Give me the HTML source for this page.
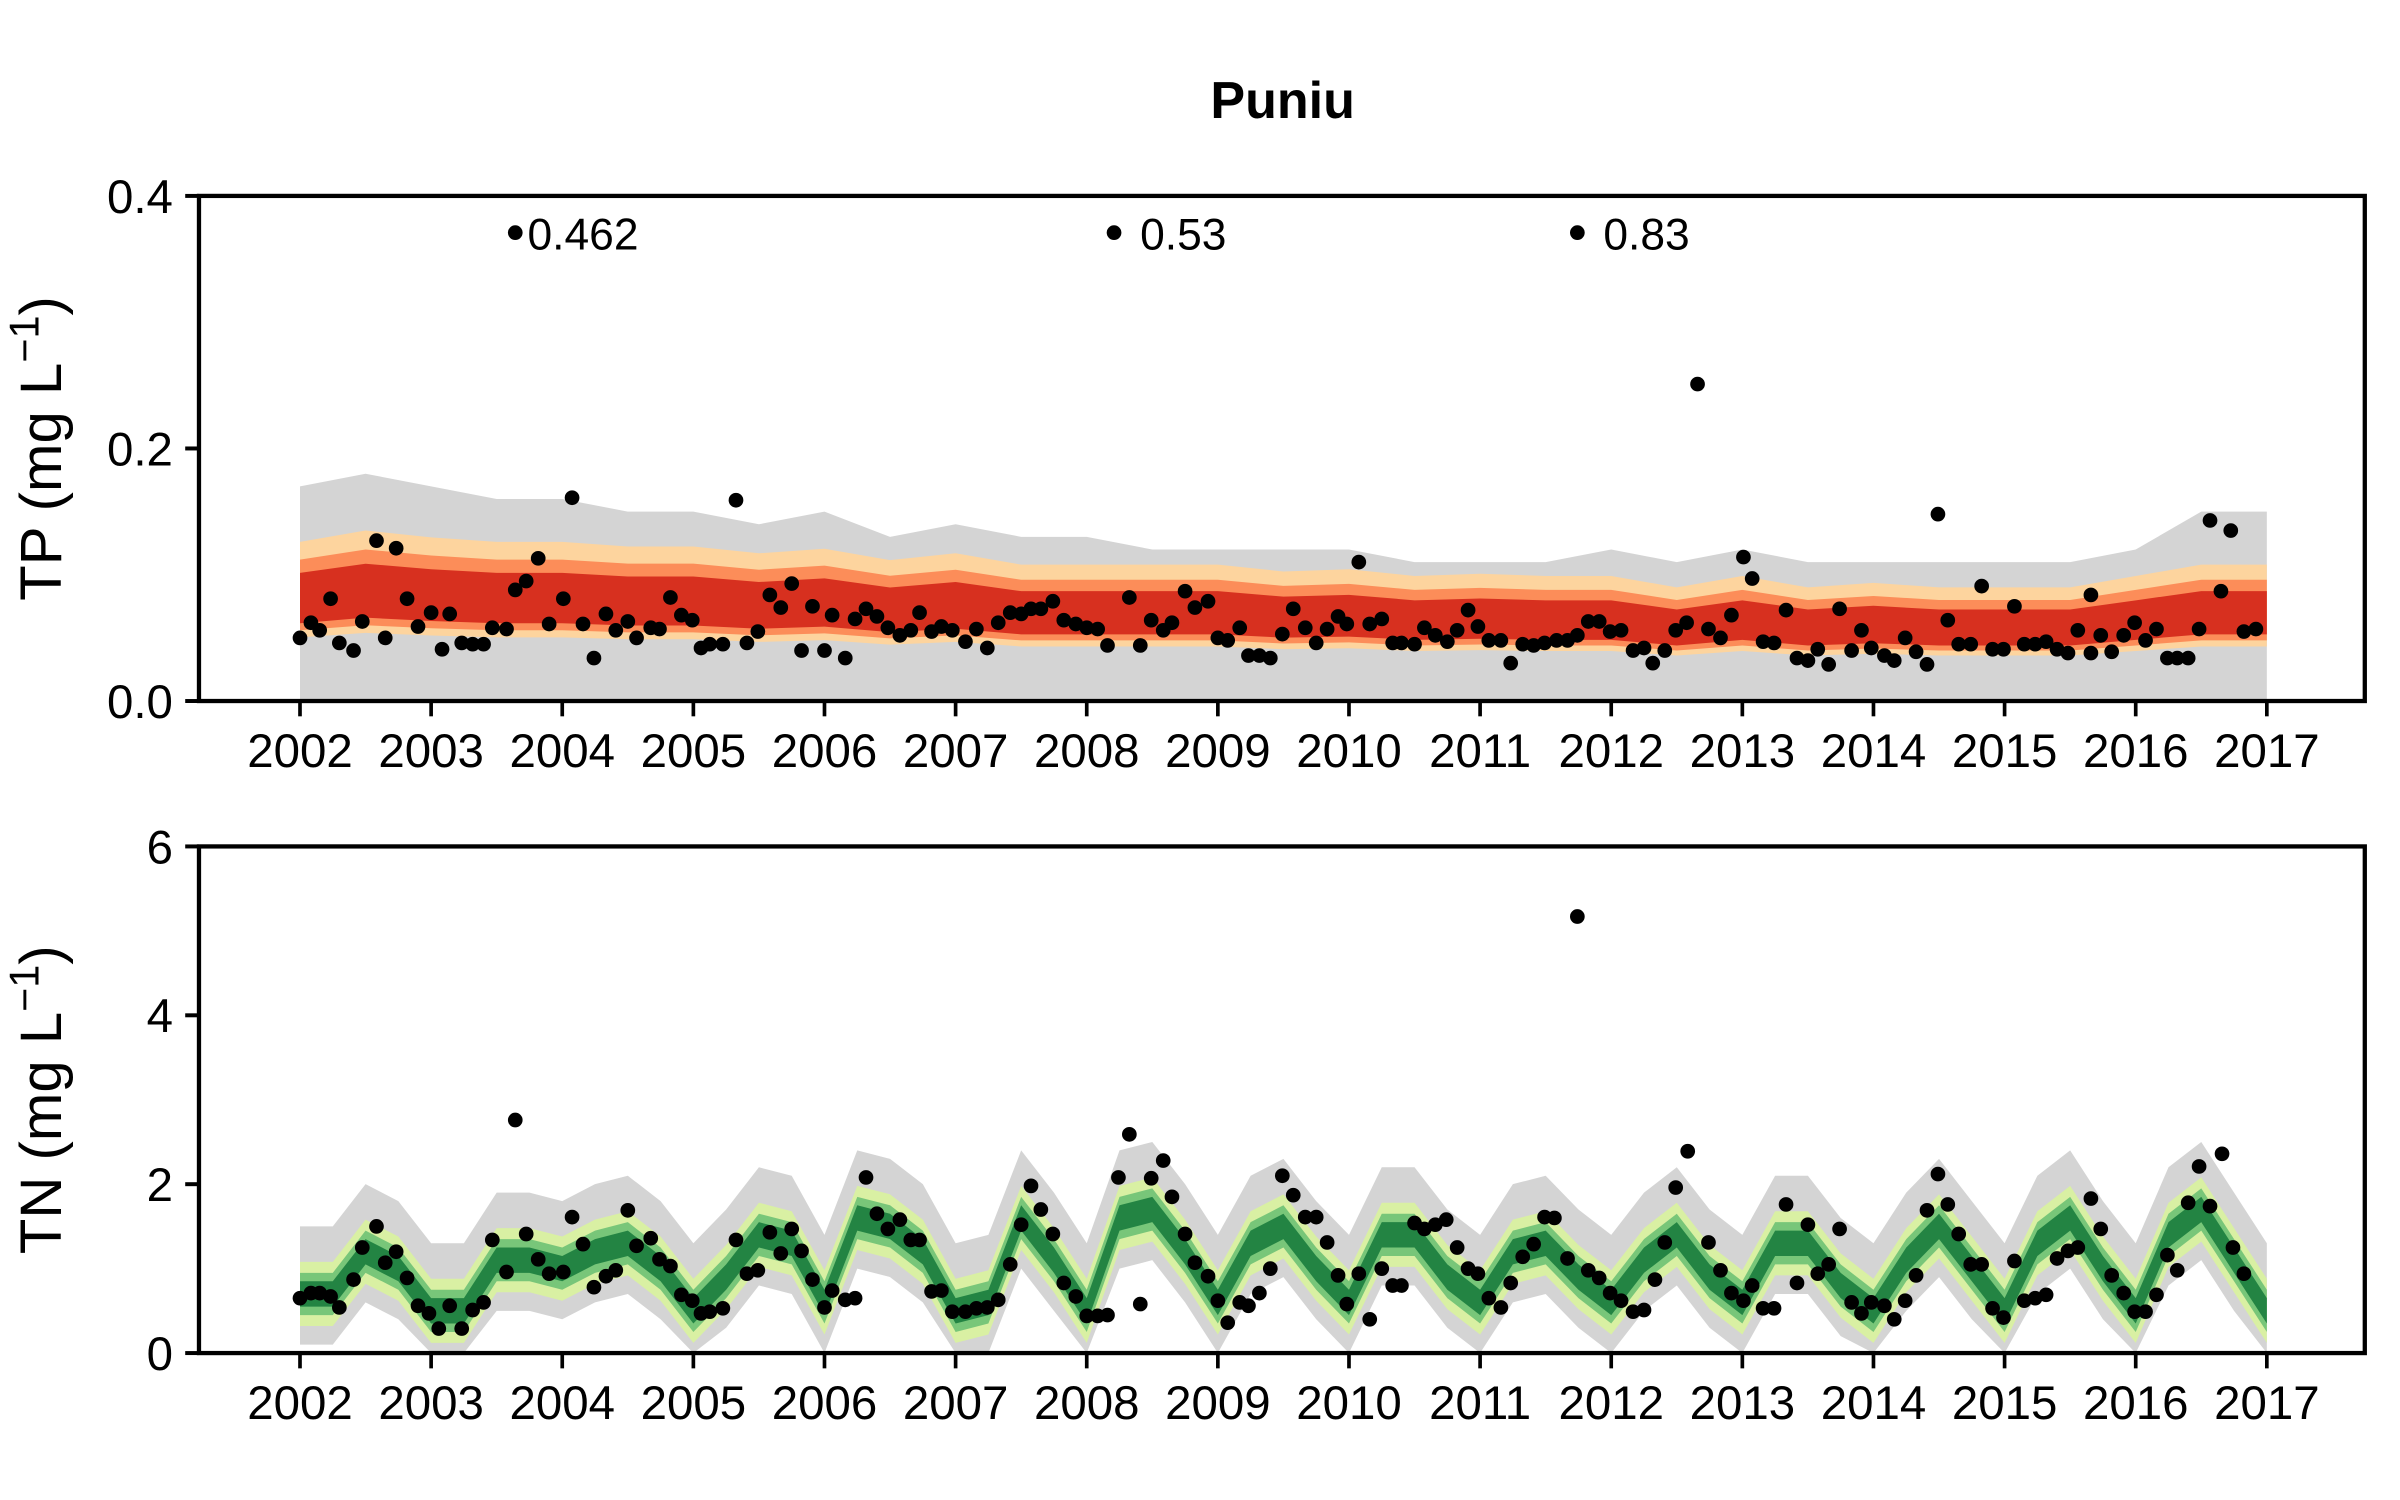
<!DOCTYPE html>
<html><head><meta charset="utf-8">
<style>
html,body{margin:0;padding:0;background:#fff;}
svg{display:block;font-family:"Liberation Sans",Arial,sans-serif;}
</style></head>
<body>
<svg id="chart" width="2400" height="1500" viewBox="0 0 1568 980" xmlns="http://www.w3.org/2000/svg">
<text x="838" y="77" text-anchor="middle" font-size="34" font-weight="bold">Puniu</text>
<g id="tp"></g>
<g id="tn"></g>
</svg>
<script>
const years = [2002,2003,2004,2005,2006,2007,2008,2009,2010,2011,2012,2013,2014,2015,2016,2017];
const tpTicks = [0.0,0.2,0.4];
const tpTickLabels = ["0.0","0.2","0.4"];
const tnTicks = [0,2,4,6];
const tnTickLabels = ["0","2","4","6"];
// semiannual model band (months from Jan 2002, step 6)
const tpMid = [.07,.075,.072,.07,.07,.068,.068,.065,.067,.062,.065,.06,.06,.06,.06,.057,.058,.055,.056,.055,.055,.05,.055,.05,.052,.05,.05,.05,.055,.06,.06];
const tpGrayTop = [.17,.18,.17,.16,.16,.15,.15,.14,.15,.13,.14,.13,.13,.12,.12,.12,.12,.11,.11,.11,.12,.11,.12,.11,.11,.11,.11,.11,.12,.15,.15];
// quarterly TN model median (months step 3)
const tnMid = [.7,.7,1.2,1.0, .5,.5,1.1,1.1, 1.0,1.2,1.3,1.0, .5,.9,1.4,1.3, .6,1.6,1.5,1.2, .5,.6,1.6,1.1, .5,1.6,1.7,1.2, .6,1.3,1.5,1.0, .6,1.4,1.4,.9, .6,1.2,1.3,.9, .6,1.1,1.4,.9, .6,1.3,1.3,.8, .5,1.1,1.5,1.0, .5,1.3,1.6,1.0, .5,1.4,1.7,1.1, .5];
const tpObs = [[0,.050],[1,.062],[1.8,.056],[2.8,.081],[3.6,.046],[4.9,.040],[5.7,.063],[7,.127],[7.8,.050],[8.8,.121],[9.8,.081],[10.8,.059],[12,.070],[13,.041],[13.7,.069],[14.8,.046],[15.8,.045],[16.8,.045],[17.6,.058],[18.9,.057],[19.7,.088],[20.7,.095],[21.8,.113],[22.8,.061],[24.1,.081],[24.9,.161],[25.9,.061],[26.9,.034],[28,.069],[28.9,.056],[30,.063],[30.8,.050],[32.1,.058],[32.9,.057],[33.9,.082],[34.9,.068],[35.9,.064],[36.7,.042],[37.5,.045],[38.7,.045],[39.9,.159],[40.9,.046],[41.9,.055],[43,.084],[44,.074],[45,.093],[45.9,.040],[46.9,.075],[48,.040],[48.7,.068],[49.9,.034],[50.8,.065],[51.8,.073],[52.8,.067],[53.8,.058],[54.9,.052],[55.9,.056],[56.7,.070],[57.8,.055],[58.7,.059],[59.7,.056],[60.9,.047],[61.9,.057],[62.9,.042],[63.9,.062],[65,.070],[66,.069],[66.9,.073],[67.8,.073],[68.9,.079],[69.9,.064],[71,.061],[72,.058],[73,.057],[73.9,.044],[75.9,.082],[76.9,.044],[77.9,.064],[79,.056],[79.8,.062],[81,.087],[81.9,.074],[83.1,.079],[84,.050],[84.9,.048],[86,.058],[86.8,.036],[87.8,.036],[88.8,.034],[89.9,.053],[90.9,.073],[92,.058],[93,.046],[94,.057],[95,.067],[95.8,.061],[96.9,.110],[97.9,.061],[99,.065],[100,.046],[100.8,.046],[102,.045],[102.9,.058],[103.9,.052],[105,.047],[105.9,.056],[106.9,.072],[107.8,.059],[108.8,.048],[109.9,.048],[110.8,.030],[111.9,.045],[112.9,.044],[113.9,.046],[115,.048],[116,.048],[116.9,.052],[117.9,.063],[118.9,.063],[119.9,.055],[120.9,.056],[122,.040],[123,.042],[123.8,.030],[124.9,.040],[125.9,.056],[126.9,.062],[127.9,.251],[128.9,.057],[130,.050],[131,.068],[132.1,.114],[132.9,.097],[133.9,.047],[134.9,.046],[136,.072],[137,.034],[138,.032],[138.9,.041],[139.9,.029],[140.9,.073],[142,.040],[142.9,.056],[143.8,.042],[145,.036],[145.9,.032],[146.9,.050],[147.9,.039],[148.9,.029],[149.9,.148],[150.8,.064],[151.8,.045],[152.9,.045],[153.9,.091],[154.9,.041],[155.9,.041],[156.9,.075],[157.8,.045],[158.8,.045],[159.8,.047],[160.8,.041],[161.8,.038],[162.7,.056],[163.9,.038],[163.9,.084],[164.8,.052],[165.8,.039],[166.9,.052],[167.9,.062],[168.9,.048],[169.9,.057],[170.9,.034],[171.8,.034],[172.8,.034],[173.8,.057],[174.8,.143],[175.8,.087],[176.7,.135],[177.9,.055],[179,.057]];
const tpOffMonths = [19.7,74.5,116.9];
const tpOffLabels = ["0.462","0.53","0.83"];
const tnObs = [[0,.65],[1,.71],[1.8,.71],[2.8,.67],[3.6,.54],[4.9,.87],[5.7,1.25],[7,1.50],[7.8,1.07],[8.8,1.20],[9.8,.89],[10.8,.56],[11.8,.47],[12.7,.29],[13.7,.56],[14.8,.29],[15.8,.51],[16.8,.60],[17.6,1.34],[18.9,.96],[19.7,2.76],[20.7,1.41],[21.8,1.11],[22.8,.94],[24.1,.96],[24.9,1.61],[25.9,1.29],[26.9,.78],[28,.91],[28.9,.98],[30,1.69],[30.8,1.27],[32.1,1.36],[32.9,1.11],[33.9,1.03],[34.9,.69],[35.9,.62],[36.7,.47],[37.5,.49],[38.7,.53],[39.9,1.34],[40.9,.94],[41.9,.98],[43,1.43],[44,1.18],[45,1.47],[45.9,1.21],[46.9,.87],[48,.54],[48.7,.74],[49.9,.63],[50.8,.65],[51.8,2.08],[52.8,1.65],[53.8,1.47],[54.9,1.58],[55.9,1.34],[56.7,1.34],[57.8,.73],[58.7,.74],[59.7,.49],[60.9,.49],[61.9,.53],[62.9,.54],[63.9,.63],[65,1.05],[66,1.52],[66.9,1.98],[67.8,1.70],[68.9,1.41],[69.9,.83],[71,.67],[72,.44],[73,.44],[73.9,.45],[74.9,2.08],[75.9,2.59],[76.9,.58],[77.9,2.07],[79,2.28],[79.8,1.85],[81,1.41],[81.9,1.07],[83.1,.91],[84,.62],[84.9,.36],[86,.60],[86.8,.56],[87.8,.71],[88.8,1.00],[89.9,2.10],[90.9,1.87],[92,1.61],[93,1.61],[94,1.31],[95,.92],[95.8,.58],[96.9,.94],[97.9,.40],[99,1.00],[100,.80],[100.8,.80],[102,1.54],[102.9,1.47],[103.9,1.52],[104.9,1.58],[105.9,1.25],[106.9,1.00],[107.8,.94],[108.8,.65],[109.9,.54],[110.8,.83],[111.9,1.14],[112.9,1.29],[113.9,1.61],[114.8,1.60],[116,1.12],[116.9,5.17],[117.9,.98],[118.9,.89],[119.9,.71],[120.9,.62],[122,.49],[123,.51],[124,.87],[124.9,1.31],[125.9,1.96],[127,2.39],[128.9,1.31],[130,.98],[131,.71],[132.1,.62],[132.9,.80],[133.9,.53],[134.9,.53],[136,1.76],[137,.83],[138,1.52],[138.9,.94],[139.9,1.05],[140.9,1.47],[142,.60],[142.9,.47],[143.8,.60],[145,.56],[145.9,.40],[146.9,.62],[147.9,.92],[148.9,1.69],[149.9,2.12],[150.8,1.76],[151.8,1.41],[152.9,1.05],[153.9,1.05],[154.9,.53],[155.9,.42],[156.9,1.09],[157.8,.62],[158.8,.65],[159.8,.69],[160.8,1.12],[161.8,1.21],[162.7,1.25],[163.9,1.83],[164.8,1.47],[165.8,.92],[166.9,.71],[167.9,.49],[168.9,.49],[169.9,.69],[170.9,1.16],[171.8,.98],[172.8,1.78],[173.8,2.21],[174.8,1.74],[175.9,2.36],[176.9,1.25],[177.9,.94]];

const NS = "http://www.w3.org/2000/svg";
function mk(parent, tag, attrs){const e=document.createElementNS(NS,tag);for(const k in attrs)e.setAttribute(k,attrs[k]);parent.appendChild(e);return e;}
const X0=196, PX_PER_YEAR=(1481-196)/15;
function xm(m){return X0 + m/12*PX_PER_YEAR;}
function xy(y){return X0 + (y-2002)*PX_PER_YEAR;}

function bandPath(ms, lo, hi){
  let d="M"+xm(ms[0])+","+hi[0];
  for(let i=1;i<ms.length;i++) d+=" L"+xm(ms[i])+","+hi[i];
  for(let i=ms.length-1;i>=0;i--) d+=" L"+xm(ms[i])+","+lo[i];
  return d+" Z";
}

function panel(g, top, bottom, ymax, ticks, tickLabels, titleMain){
  const ys = v => bottom - v/ymax*(bottom-top);
  ticks.forEach((t,i)=>{
    const l=mk(g,"line",{x1:121,x2:130,y1:ys(t),y2:ys(t),stroke:"#000","stroke-width":2.6});
    
    
    const tx=mk(g,"text",{x:113,y:ys(t)+11,"text-anchor":"end","font-size":31});
    tx.textContent=tickLabels[i];
    
    
  });
  years.forEach(yv=>{
    const x=xy(yv);
    const l=mk(g,"line",{x1:x,x2:x,y1:bottom,y2:bottom+10,stroke:"#000","stroke-width":2.4});
    
    
    const tx=mk(g,"text",{x:x,y:bottom+43,"text-anchor":"middle","font-size":31});
    tx.textContent=String(yv);
    
    
  });
  const ty=(top+bottom)/2;
  const at=mk(g,"text",{x:0,y:0,transform:`translate(40,${ty}) rotate(-90)`,"text-anchor":"middle","font-size":38});
  at.innerHTML=titleMain+'  (mg L<tspan dy="-15" font-size="27">\u22121</tspan><tspan dy="15">)</tspan>';
  
  
  return ys;
}

// ---- TP ----
(function(){
  const g=document.getElementById("tp");
  const top=128,bottom=458;
  const ys=panel(g,top,bottom,0.4,tpTicks,tpTickLabels,"TP");
  const ms=tpMid.map((_,i)=>i*6);
  const zero=ms.map(()=>ys(0));
  const gray=mk(g,"path",{d:bandPath(ms,zero,tpGrayTop.map(ys)),fill:"#d4d4d4"});
  
  
  const layers=[[0.72,1.8,"#fdd49e","tp-band-outer"],[0.8,1.6,"#fc8d59","tp-band-middle"],[0.88,1.45,"#d7301f","tp-band-inner"]];
  layers.forEach(L=>{
    const p=mk(g,"path",{d:bandPath(ms,tpMid.map(v=>ys(v*L[0])),tpMid.map(v=>ys(v*L[1]))),fill:L[2]});
    
    
  });
  tpObs.forEach(o=>{
    const c=mk(g,"circle",{cx:xm(o[0]),cy:ys(o[1]),r:4.8,fill:"#000"});
    
    
  });
  tpOffMonths.forEach((m,i)=>{
    const c=mk(g,"circle",{cx:xm(m),cy:152,r:4.8,fill:"#000"});
    
    
    const t=mk(g,"text",{x:xm(m)+(i==0?8:17),y:163,"font-size":29});
    t.textContent=tpOffLabels[i];
    
    
  });
  const fr=mk(g,"rect",{x:130,y:top,width:1415,height:bottom-top,fill:"none",stroke:"#000","stroke-width":2.8});
  
  
})();

// ---- TN ----
(function(){
  const g=document.getElementById("tn");
  const top=553,bottom=884;
  const ys=panel(g,top,bottom,6,tnTicks,tnTickLabels,"TN");
  const ms=tnMid.map((_,i)=>i*3);
  const gray=mk(g,"path",{d:bandPath(ms,tnMid.map(v=>ys(Math.max(0,v-0.6))),tnMid.map(v=>ys(v+0.8))),fill:"#d4d4d4"});
  
  
  const layers=[[0.38,"#d9f0a3","tn-band-outer"],[0.25,"#78c679","tn-band-middle"],[0.15,"#238443","tn-band-inner"]];
  layers.forEach(L=>{
    const p=mk(g,"path",{d:bandPath(ms,tnMid.map(v=>ys(Math.max(0,v-L[0]))),tnMid.map(v=>ys(v+L[0]))),fill:L[1]});
    
    
  });
  tnObs.forEach(o=>{
    const c=mk(g,"circle",{cx:xm(o[0]),cy:ys(o[1]),r:4.8,fill:"#000"});
    
    
  });
  const fr=mk(g,"rect",{x:130,y:top,width:1415,height:bottom-top,fill:"none",stroke:"#000","stroke-width":2.8});
  
  
})();
</script>
</body></html>
